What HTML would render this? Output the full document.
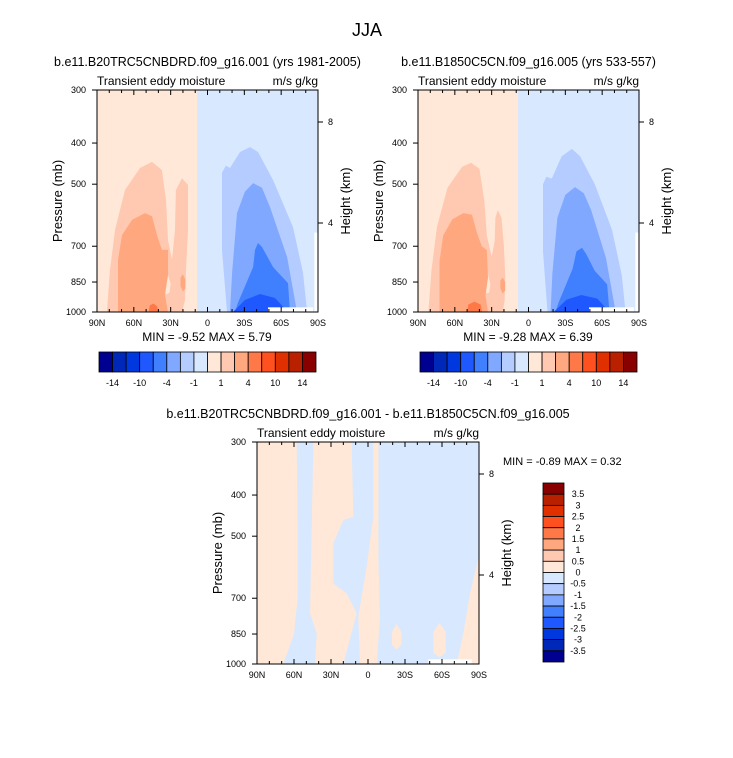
<!DOCTYPE html>
<html><head><meta charset="utf-8"><style>
html,body{margin:0;padding:0;background:#fff;}
svg{display:block;font-family:"Liberation Sans",sans-serif;}
</style></head><body>
<svg id="fig" width="733" height="758" viewBox="0 0 733 758" xmlns="http://www.w3.org/2000/svg">
<text x="367" y="36" font-size="18" text-anchor="middle">JJA</text>
</svg>
<script>
// ---- data ----
const colorLevelsTop = ["-14","-10","-4","-1","1","4","10","14"];
const colorLevelsDiff = ["3.5","3","2.5","2","1.5","1","0.5","0","-0.5","-1","-1.5","-2","-2.5","-3","-3.5"];
const pressureTicks = [300,400,500,700,850,1000];
const latTicks = [90,60,30,0,-30,-60,-90];
const latTickLabels = ["90N","60N","30N","0","30S","60S","90S"];
const heightTicks = [8,4];
const palette = ["#000090","#0028b8","#0038e0","#2058ff","#4080ff","#80a8ff","#b4ccff","#d8e8ff","#ffe8d8","#ffc8b0","#ffa880","#ff7848","#ff5020","#e03000","#b82000","#880000"];

// contour polygons, [lat, pressure]
const m1Peach2 = [[81.9,1000],[79.4,796],[75.3,641],[67.2,516],[55,458],[45.2,443],[37.1,463],[33.8,545],[32.2,677],[28.9,754],[26.5,641],[25.7,516],[20.8,484],[15.9,502],[15.9,641],[17.5,796],[18.3,937],[20.8,1000]];
const m1PeachHole = [[35,830],[32,820],[30,860],[31,900],[34,910],[36,870]];
const m1Orange3 = [[72.9,1000],[72.9,754],[69.6,659],[61.5,607],[50.9,585],[45.2,595],[41.1,659],[37.1,714],[32.2,714],[32.2,818],[34.6,912],[32.2,1000]];
const m1OrangeLobe = [[20,815],[18,840],[18,880],[20,895],[22,870],[22,830]];
const m1Orange4 = [[48,1000],[47,965],[44,955],[41,970],[40,1000]];
const m1Blue2 = [[-15.9,1000],[-11.8,714],[-11.8,470],[-15,452],[-18.3,458],[-26.5,420],[-34.6,409],[-41.1,420],[-53.4,489],[-69.6,631],[-77.8,809],[-81.1,1000]];
const m1Blue4 = [[-18.3,1000],[-20,809],[-24,585],[-30.5,521],[-37.1,497],[-44.4,510],[-50.9,566],[-64.8,742],[-72.9,1000]];
const m1Blue6 = [[-22.4,1000],[-24.8,952],[-37.1,784],[-38.7,714],[-41.1,688],[-44.4,703],[-53.4,784],[-65.6,855],[-67.2,1000]];
const m1Blue8 = [[-20.8,1000],[-30.5,937],[-42.8,907],[-55,927],[-65.6,1000]];

const m2Peach2 = [[81.5,1000],[79,796],[74.5,630],[66,510],[54,455],[46.8,445],[40,460],[36,545],[34,660],[30,740],[27.5,680],[27,600],[25,575],[22,600],[20,700],[19,820],[19.5,940],[21,1000]];
const m2PeachHole = [[36,820],[33,815],[31,860],[32,900],[35,905],[37,865]];
const m2Orange3 = [[72.5,1000],[72.5,760],[69.5,660],[62,605],[53,585],[46,590],[42,650],[38,700],[34,715],[33,830],[35,915],[33,1000]];
const m2OrangeLobe = [[21,830],[19,850],[19,890],[21,905],[23,880],[23,845]];
const m2Orange4 = [[50,1000],[49,960],[44,945],[39,960],[37.8,1000]];
const m2Blue2 = [[-15.5,1000],[-11.8,720],[-11.8,500],[-14.5,480],[-19,485],[-27,430],[-35.4,413],[-42,430],[-54,500],[-68,640],[-76,820],[-79,1000]];
const m2Blue4 = [[-18,1000],[-19.5,810],[-23.5,600],[-30,530],[-37.9,508],[-45,525],[-51,575],[-63,745],[-71,1000]];
const m2Blue6 = [[-22,1000],[-24.5,950],[-36,790],[-39,720],[-43.6,706],[-47,730],[-54,800],[-64,860],[-66,1000]];
const m2Blue8 = [[-20.5,1000],[-31,935],[-43,912],[-56,930],[-66,1000]];

const dPeachBand1 = [[90,300],[57.8,300],[57,500],[57,700],[60,850],[68.7,1000],[90,1000]];
const dPeachBand3 = [[44.3,300],[13.2,300],[11.9,450],[20,458],[28.1,520],[28.1,646],[17.3,682],[9.2,760],[20,1000],[43,1000],[41.6,847],[47,760],[45.7,492]];
const dPeachBand4 = [[-4.3,300],[-8.4,300],[-8.4,569],[-9.7,774],[-7.1,1000],[6.5,1000],[7.9,774],[1.1,590],[-4.3,450]];
const dPeachPole = [[-89.7,560],[-89.7,1000],[-71.9,1000],[-77.3,847],[-82.7,682]];
const dPeachBlob1 = [[-23,805],[-19.5,840],[-19.5,900],[-23,925],[-27,900],[-27,840]];
const dPeachBlob2 = [[-58,800],[-53,840],[-53,940],[-58,965],[-63,940],[-63,840]];

const NS = "http://www.w3.org/2000/svg";
const fig = document.getElementById('fig');
function el(tag, attrs, parent){const e=document.createElementNS(NS,tag);for(const k in attrs)e.setAttribute(k,attrs[k]);(parent||fig).appendChild(e);return e;}

function makePanel(x0,y0,w,h,bg,layers,opts){
  const g = el('g',{});
  
  
  const xs = lat => x0 + (90-lat)/180*w;
  const ys = p => y0 + h - Math.log(1000/p)/Math.log(1000/300)*h;
  const hy = z => y0 + opts.h4 + (4-z)*(opts.h4-opts.h8)/4;
  const cp = 'clip'+opts.name;
  const cl = el('clipPath',{id:cp},g); el('rect',{x:x0,y:y0,width:w,height:h},cl);
  const inner = el('g',{'clip-path':'url(#'+cp+')'},g);
  const bgr = el('rect',{x:x0,y:y0,width:w,height:h,fill:bg[0]},inner);
  
  
  if(bg[1]){
    const r = el('rect',{x:xs(bg[2]),y:y0,width:x0+w-xs(bg[2]),height:h,fill:bg[1]},inner);
    
    
  }
  layers.forEach(L=>{
    const d = L.pts.map((pt,i)=>(i?'L':'M')+xs(pt[0]).toFixed(1)+' '+ys(pt[1]).toFixed(1)).join(' ')+'Z';
    const p = el('path',{d:d,fill:L.c},inner);
    
    
  });
  const md = el('rect',{x:xs(opts.miss[0]),y:ys(975),width:xs(opts.miss[1])-xs(opts.miss[0]),height:y0+h-ys(975),fill:'#fff'},inner);
  
  
  if(opts.edge){
    const me = el('rect',{x:xs(-87),y:ys(650),width:xs(-90)-xs(-87),height:y0+h-ys(650),fill:'#fff'},inner);
    
    
  }
  const fr = el('rect',{x:x0,y:y0,width:w,height:h,fill:'none',stroke:'#000','stroke-width':1},g);
  
  
  for(let lat=90;lat>=-90;lat-=10){
    const major = lat%30===0, x=xs(lat), L=major?5:3;
    el('line',{x1:x,y1:y0+h,x2:x,y2:y0+h-L,stroke:'#000','stroke-width':1},g);
    el('line',{x1:x,y1:y0,x2:x,y2:y0+L,stroke:'#000','stroke-width':1},g);
  }
  latTicks.forEach((lat,i)=>{
    const t = el('text',{x:xs(lat),y:y0+h+14,'font-size':9,'text-anchor':'middle'},g);
    t.textContent = latTickLabels[i];
    
    
  });
  pressureTicks.forEach(p=>{
    const y=ys(p);
    el('line',{x1:x0,y1:y,x2:x0-5,y2:y,stroke:'#000','stroke-width':1},g);
    const t = el('text',{x:x0-11,y:y+3,'font-size':9,'text-anchor':'end'},g);
    t.textContent = p;
    
    
  });
  heightTicks.forEach(hk=>{
    const y = hy(hk);
    el('line',{x1:x0+w,y1:y,x2:x0+w+5,y2:y,stroke:'#000','stroke-width':1},g);
    const t = el('text',{x:x0+w+10,y:y+3,'font-size':9},g);
    t.textContent = hk;
    
    
  });
  const yl = el('text',{x:0,y:0,'font-size':13,'text-anchor':'middle',transform:`translate(${x0-35},${y0+h/2}) rotate(-90)`},g);
  yl.textContent='Pressure (mb)';
  
  
  const hl = el('text',{x:0,y:0,'font-size':13,'text-anchor':'middle',transform:`translate(${x0+w+32},${y0+h/2}) rotate(-90)`},g);
  hl.textContent='Height (km)';
  
  
  const lt = el('text',{x:x0,y:y0-5,'font-size':12},g);
  lt.textContent='Transient eddy moisture';
  
  
  const rt = el('text',{x:x0+w,y:y0-5,'font-size':12,'text-anchor':'end'},g);
  rt.textContent='m/s g/kg';
  
  
  const tt = el('text',{x:x0+w/2,y:y0-24,'font-size':12.5,'text-anchor':'middle'},g);
  tt.textContent=opts.title;
  
  
  return g;
}

function hbar(x0,y0,w,h,name){
  const g = el('g',{});
  
  
  const bw = w/palette.length;
  palette.forEach((c,i)=>{
    const r = el('rect',{x:x0+i*bw,y:y0,width:bw,height:h,fill:c,stroke:'#000','stroke-width':0.8},g);
    
    
  });
  colorLevelsTop.forEach((lab,i)=>{
    const t = el('text',{x:x0+(2*i+1)*bw,y:y0+h+14,'font-size':9,'text-anchor':'middle'},g);
    t.textContent=lab;
    
    
  });
}

const lay1 = [
  {c:palette[9],pts:m1Peach2,n:'contour-pos-1'},{c:palette[8],pts:m1PeachHole,n:'contour-pos-0'},
  {c:palette[10],pts:m1Orange3,n:'contour-pos-2'},{c:palette[10],pts:m1OrangeLobe,n:'contour-pos-2-lobe'},
  {c:palette[11],pts:m1Orange4,n:'contour-pos-3'},
  {c:palette[6],pts:m1Blue2,n:'contour-neg-1'},{c:palette[5],pts:m1Blue4,n:'contour-neg-2'},
  {c:palette[4],pts:m1Blue6,n:'contour-neg-3'},{c:palette[3],pts:m1Blue8,n:'contour-neg-4'}];
const lay2 = [
  {c:palette[9],pts:m2Peach2,n:'contour-pos-1'},{c:palette[8],pts:m2PeachHole,n:'contour-pos-0'},
  {c:palette[10],pts:m2Orange3,n:'contour-pos-2'},{c:palette[10],pts:m2OrangeLobe,n:'contour-pos-2-lobe'},
  {c:palette[11],pts:m2Orange4,n:'contour-pos-3'},
  {c:palette[6],pts:m2Blue2,n:'contour-neg-1'},{c:palette[5],pts:m2Blue4,n:'contour-neg-2'},
  {c:palette[4],pts:m2Blue6,n:'contour-neg-3'},{c:palette[3],pts:m2Blue8,n:'contour-neg-4'}];
const lay3 = [
  {c:palette[8],pts:dPeachBand1,n:'diff-pos-band-1'},{c:palette[8],pts:dPeachBand3,n:'diff-pos-band-2'},
  {c:palette[8],pts:dPeachBand4,n:'diff-pos-band-3'},{c:palette[8],pts:dPeachPole,n:'diff-pos-pole'},
  {c:palette[8],pts:dPeachBlob1,n:'diff-pos-blob-1'},{c:palette[8],pts:dPeachBlob2,n:'diff-pos-blob-2'}];

makePanel(97,90,221,222,[palette[8],palette[7],8.5],lay1,{name:'panel-model-1',title:'b.e11.B20TRC5CNBDRD.f09_g16.001 (yrs 1981-2005)',miss:[-49.3,-86],edge:true,h8:32,h4:133});
makePanel(418,90,221,222,[palette[8],palette[7],8.5],lay2,{name:'panel-model-2',title:'b.e11.B1850C5CN.f09_g16.005 (yrs 533-557)',miss:[-49.3,-86],edge:true,h8:32,h4:133});
makePanel(257,442,222,222,[palette[7],null,0],lay3,{name:'panel-difference',title:'b.e11.B20TRC5CNBDRD.f09_g16.001 - b.e11.B1850C5CN.f09_g16.005',miss:[-48.9,-84.1],edge:false,h8:32,h4:133});

const mm = [[207,341,'MIN = -9.52  MAX =  5.79'],[528,341,'MIN = -9.28  MAX =  6.39']];
mm.forEach(a=>{const t=el('text',{x:a[0],y:a[1],'font-size':12,'text-anchor':'middle','xml:space':'preserve'});t.textContent=a[2];

});
const md = el('text',{x:503,y:465,'font-size':11,'xml:space':'preserve'});
md.textContent='MIN =  -0.89  MAX =   0.32';



hbar(99,352,217,20,'colorbar-model-1');
hbar(420,352,217,20,'colorbar-model-2');

(function(){
  const g = el('g',{});
  
  
  const x0=543,y0=483,w=21,h=179,bh=h/palette.length;
  palette.slice().reverse().forEach((c,i)=>{
    const r = el('rect',{x:x0,y:y0+i*bh,width:w,height:bh,fill:c,stroke:'#000','stroke-width':0.8},g);
    
    
  });
  colorLevelsDiff.forEach((lab,i)=>{
    const t = el('text',{x:x0+w+14,y:y0+(i+1)*bh+3,'font-size':9,'text-anchor':'middle'},g);
    t.textContent=lab;
    
    
  });
})();
</script>
</body></html>
